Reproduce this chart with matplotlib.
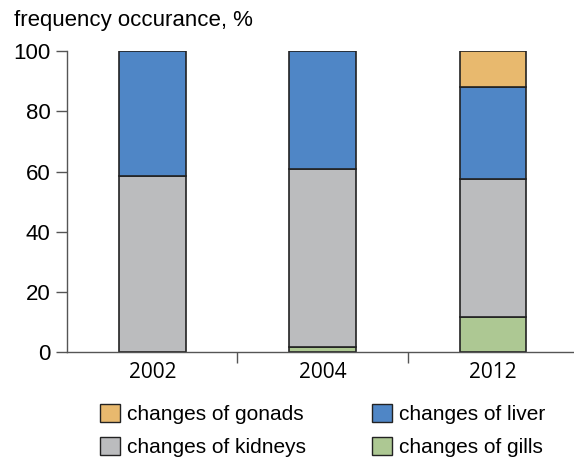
import numpy as np
import matplotlib
matplotlib.use("Agg")
from matplotlib import pyplot as plt
from matplotlib.patches import Patch

years = ["2002", "2004", "2012"]
gills = [0, 1.7, 11.7]
kidneys = [58.6, 59.0, 45.8]
liver = [41.4, 39.3, 30.5]
gonads = [0, 0, 12.0]

c_gonads = "#e8b96e"
c_liver = "#4f86c6"
c_kidneys = "#bbbcbe"
c_gills = "#adc893"
edge = "#222222"

plt.rcParams['font.family'] = ['Liberation Sans', 'DejaVu Sans']

fig = plt.figure(figsize=(5.74, 4.61), dpi=100)
ax = fig.add_axes([0.117, 0.2364, 0.89, 0.6526])

x = np.arange(len(years))
w = 0.39
bottom = np.zeros(len(years))
for vals, col in [(gills, c_gills), (kidneys, c_kidneys), (liver, c_liver), (gonads, c_gonads)]:
    v = np.array(vals)
    mask = v > 0
    ax.bar(x[mask], v[mask], w, bottom=bottom[mask], color=col, edgecolor=edge, linewidth=1.2)
    bottom += v

ax.set_xlim(-0.5, 2.5)
ax.set_ylim(0, 100)
ax.set_yticks([0, 20, 40, 60, 80, 100])
ax.tick_params(axis='y', labelsize=16, length=8, width=1, color="#555555", pad=4)
ax.set_xticks(x)
ax.set_xticklabels(years, fontsize=15, family=['Open Sans', 'DejaVu Sans'])
ax.tick_params(axis='x', length=0, pad=7)
ax.set_xticks([0.5, 1.5], minor=True)
ax.tick_params(axis='x', which='minor', length=8, width=1, color="#555555")

for s in ['top', 'right']:
    ax.spines[s].set_visible(False)
for s in ['left', 'bottom']:
    ax.spines[s].set_color("#555555")
    ax.spines[s].set_linewidth(1)

fig.text(0.024, 0.955, "frequency occurance, %", fontsize=16, va='center', ha='left')

handles = [Patch(facecolor=c_gonads, edgecolor=edge, label="changes of gonads"),
           Patch(facecolor=c_kidneys, edgecolor=edge, label="changes of kidneys"),
           Patch(facecolor=c_liver, edgecolor=edge, label="changes of liver"),
           Patch(facecolor=c_gills, edgecolor=edge, label="changes of gills")]
fig.legend(handles=handles, ncol=2, loc='center left', bbox_to_anchor=(0.142, 0.066),
           frameon=False, fontsize=15, handlelength=0.95, handleheight=0.95,
           handletextpad=0.35, columnspacing=3.15, labelspacing=0.65)

fig.savefig("out.png", dpi=100)
